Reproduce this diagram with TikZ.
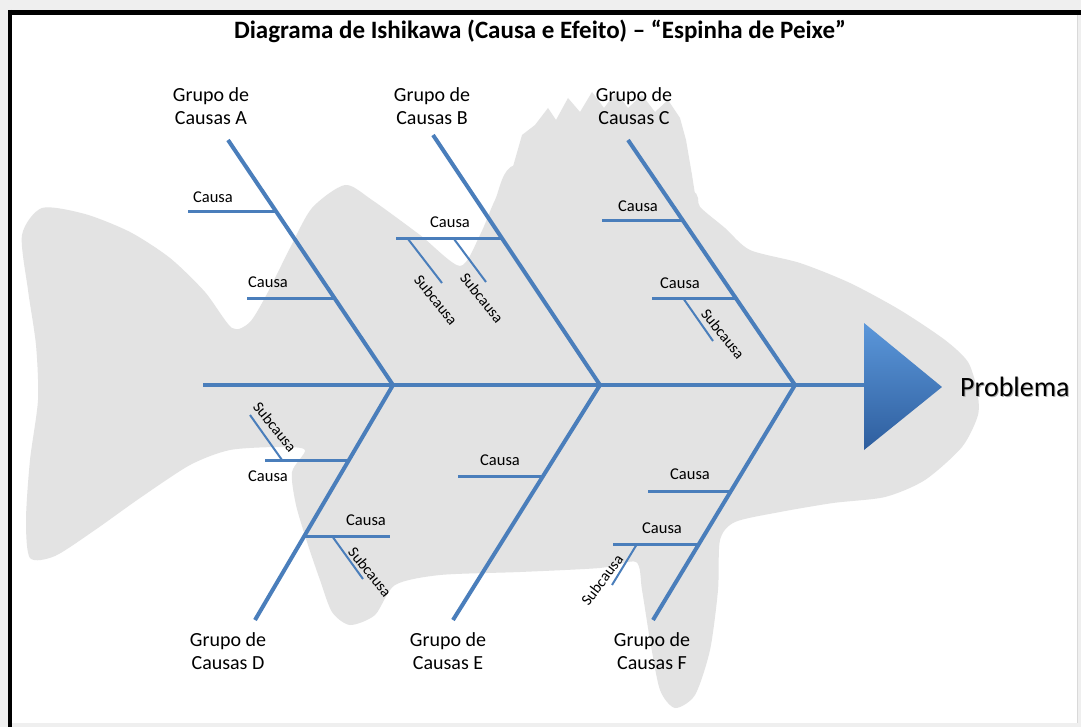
\documentclass[tikz,border=0pt]{standalone}
\usepackage{fontspec}
\setmainfont{Carlito}
\usetikzlibrary{calc}
\definecolor{bone}{HTML}{4A7EBB}
\definecolor{fishgrey}{HTML}{E3E3E3}
\definecolor{pagegrey}{HTML}{EFEFEF}
\definecolor{headtop}{HTML}{5B97DA}
\definecolor{headbot}{HTML}{2E5E9E}
\begin{document}
\begin{tikzpicture}[x=1pt,y=-1pt,
  mainbone/.style={draw=bone,line width=4pt,line cap=butt},
  causeline/.style={draw=bone,line width=3pt},
  subline/.style={draw=bone,line width=2pt},
  grouplbl/.style={align=center,font=\fontsize{20}{23}\selectfont,inner sep=0pt},
  causelbl/.style={font=\fontsize{16.5}{18}\selectfont,inner sep=0pt},
  sublbl/.style={font=\fontsize{15.5}{17}\selectfont,inner sep=0pt},
  problbl/.style={font=\fontsize{28}{32}\selectfont,anchor=west,inner sep=0pt}]
\useasboundingbox (0,0) rectangle (1081,727);
% page and frame
\fill[pagegrey] (0,0) rectangle (1081,727);
\fill[white] (12,15) rectangle (1077,723);
\draw[black,line width=5pt] (8,12.5) -- (1081,12.5);
\draw[black,line width=4pt] (10,10) -- (10,727);
\draw[black!15,line width=1pt] (1077.5,15) -- (1077.5,723);
% fish silhouette
\fill[fishgrey] plot[smooth cycle,tension=0.45] coordinates {
 (42,208) (85,214) (130,232) (170,258) (205,292) (232,328) (250,322)
 (268,292) (290,248) (312,208) (345,185) (372,200) (420,235) (460,266)
 (480,235) (495,200) (515,165) (600,175) (690,190) (700,207) (725,228)
 (750,250) (800,263) (850,283) (900,310) (945,340) (968,362) (977,390)
 (978,415) (962,447) (925,480) (885,497) (833,503) (780,512) (735,522)
 (720,540) (718,590) (710,650) (695,695) (675,708) (660,690) (650,640)
 (642,590) (636,562) (600,568) (520,572) (440,575) (395,585) (375,615)
 (350,625) (332,612) (320,580) (308,545) (296,505) (292,472) (305,450)
 (280,447) (230,450) (190,465) (140,498) (95,530) (55,556) (30,558)
 (26,520) (30,460) (38,400) (36,345) (28,290) (22,235)};
\fill[fishgrey] (505,207) -- (512,170) -- (522,135) -- (535,125) -- (548,108)
 -- (556,120) -- (568,98) -- (580,112) -- (592,92) -- (604,108) -- (616,92)
 -- (628,108) -- (642,95) -- (655,112) -- (668,100) -- (680,118) -- (686,140)
 -- (692,175) -- (697,207) -- cycle;
% title
\node[font=\fontsize{25}{30}\selectfont\bfseries] (title) at (540,31)
 {Diagrama de Ishikawa (Causa e Efeito) – “Espinha de Peixe”};
% spine and head
\coordinate (tail) at (203,385);
\coordinate (jA) at (393,385);
\coordinate (jB) at (600,385);
\coordinate (jC) at (795,385);
\coordinate (headL) at (865,385);
\draw[mainbone] (tail) -- (headL);
\shade[top color=headtop,bottom color=headbot]
 (864,323) -- (942,387) -- (864,450) -- cycle;
\coordinate (head) at (942,387);
\node[problbl,text=black!30] at (961,388) {Problema};
\node[problbl] (prob) at (960,387) {Problema};
% group bones
\coordinate (A) at (228,140);
\coordinate (B) at (433,135);
\coordinate (C) at (628,140);
\coordinate (D) at (255,620);
\coordinate (E) at (453,620);
\coordinate (F) at (653,620);
\draw[mainbone] (A) -- (jA);
\draw[mainbone] (B) -- (jB);
\draw[mainbone] (C) -- (jC);
\draw[mainbone] (D) -- (jA);
\draw[mainbone] (E) -- (jB);
\draw[mainbone] (F) -- (jC);
\node[grouplbl] (gA) at (211,106) {Grupo de\\Causas A};
\node[grouplbl] (gB) at (432,106) {Grupo de\\Causas B};
\node[grouplbl] (gC) at (634,106) {Grupo de\\Causas C};
\node[grouplbl] (gD) at (228,651) {Grupo de\\Causas D};
\node[grouplbl] (gE) at (448,651) {Grupo de\\Causas E};
\node[grouplbl] (gF) at (652,651) {Grupo de\\Causas F};
% causes of group A
\coordinate (a1s) at (188,212); \coordinate (a1e) at (276,212);
\coordinate (a2s) at (247,298); \coordinate (a2e) at (334,298);
\draw[causeline] (a1s) -- (a1e);
\draw[causeline] (a2s) -- (a2e);
\node[causelbl] (ta1) at (213,197) {Causa};
\node[causelbl] (ta2) at (268,282) {Causa};
% causes of group B
\coordinate (b1s) at (396,239); \coordinate (b1e) at (502,239);
\draw[causeline] (b1s) -- (b1e);
\node[causelbl] (tb1) at (450,222) {Causa};
\coordinate (b11s) at (408,239); \coordinate (b11e) at (442,283);
\coordinate (b12s) at (454,239); \coordinate (b12e) at (486,282);
\draw[subline] (b11s) -- (b11e);
\draw[subline] (b12s) -- (b12e);
\node[sublbl,rotate=-51] (tb11) at (436,300) {Subcausa};
\node[sublbl,rotate=-51] (tb12) at (482,298) {Subcausa};
% causes of group C
\coordinate (c1s) at (602,221); \coordinate (c1e) at (683,221);
\coordinate (c2s) at (652,298); \coordinate (c2e) at (736,298);
\draw[causeline] (c1s) -- (c1e);
\draw[causeline] (c2s) -- (c2e);
\node[causelbl] (tc1) at (638,206) {Causa};
\node[causelbl] (tc2) at (680,283) {Causa};
\coordinate (c21s) at (683,298); \coordinate (c21e) at (713,341);
\draw[subline] (c21s) -- (c21e);
\node[sublbl,rotate=-51] (tc21) at (723,334) {Subcausa};
% causes of group D
\coordinate (d1s) at (265,460); \coordinate (d1e) at (349,460);
\coordinate (d2s) at (304,536); \coordinate (d2e) at (390,536);
\draw[causeline] (d1s) -- (d1e);
\draw[causeline] (d2s) -- (d2e);
\node[causelbl] (td1) at (268,476) {Causa};
\node[causelbl] (td2) at (366,520) {Causa};
\coordinate (d11s) at (250,415); \coordinate (d11e) at (282,460);
\coordinate (d21s) at (332,536); \coordinate (d21e) at (363,579);
\draw[subline] (d11s) -- (d11e);
\draw[subline] (d21s) -- (d21e);
\node[sublbl,rotate=-51] (td11) at (275,427) {Subcausa};
\node[sublbl,rotate=-51] (td21) at (370,572) {Subcausa};
% causes of group E
\coordinate (e1s) at (458,476); \coordinate (e1e) at (543,476);
\draw[causeline] (e1s) -- (e1e);
\node[causelbl] (te1) at (500,460) {Causa};
% causes of group F
\coordinate (f1s) at (648,491); \coordinate (f1e) at (731,491);
\coordinate (f2s) at (613,544); \coordinate (f2e) at (699,544);
\draw[causeline] (f1s) -- (f1e);
\draw[causeline] (f2s) -- (f2e);
\node[causelbl] (tf1) at (690,474) {Causa};
\node[causelbl] (tf2) at (662,528) {Causa};
\coordinate (f21s) at (637,544); \coordinate (f21e) at (612,585);
\draw[subline] (f21s) -- (f21e);
\node[sublbl,rotate=53] (tf21) at (602,580) {Subcausa};
\end{tikzpicture}
\end{document}
